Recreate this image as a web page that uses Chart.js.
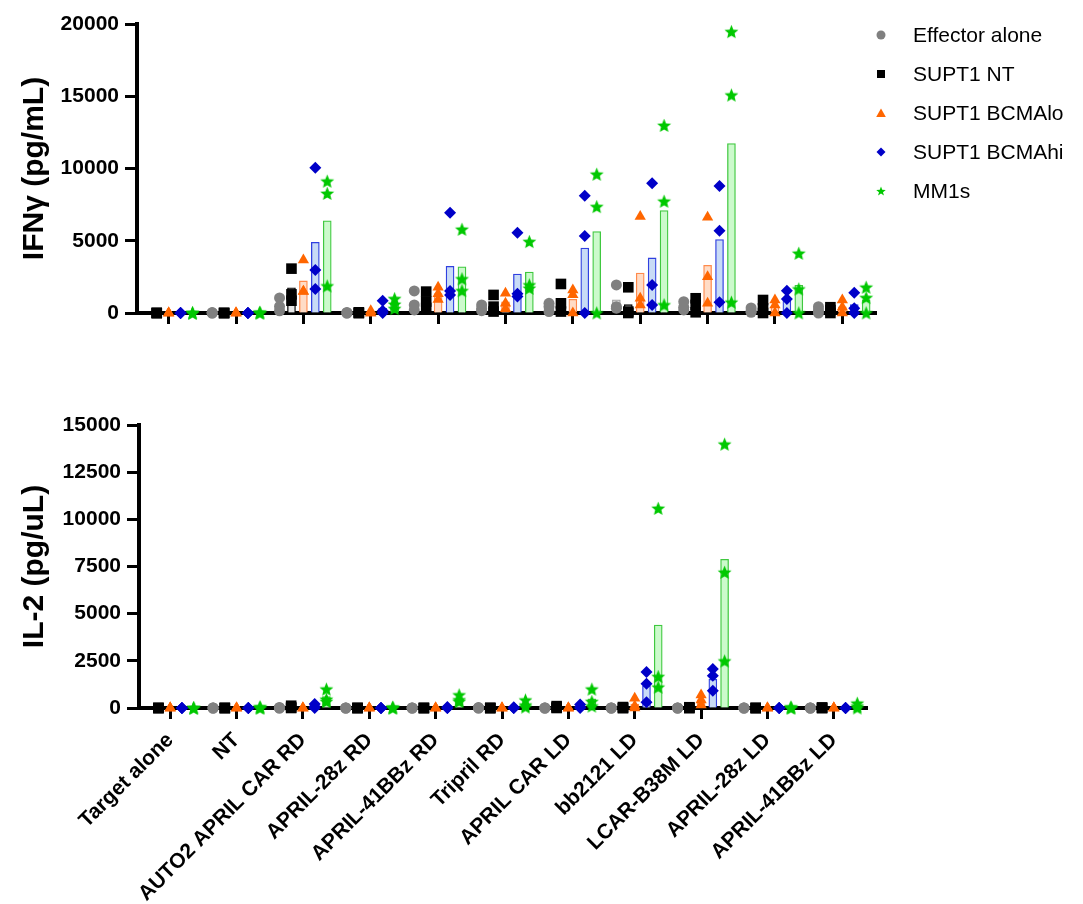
<!DOCTYPE html>
<html>
<head>
<meta charset="utf-8">
<script src="https://cdn.jsdelivr.net/npm/chart.js@4.4.1/dist/chart.umd.min.js"></script>
<style>
html,body{margin:0;padding:0;background:#fff;width:1083px;height:904px;overflow:hidden;font-family:"Liberation Sans",Arial,Helvetica,sans-serif;}
canvas{position:absolute;left:0;}
#c1{top:0;}
#c2{top:380px;}
.li{position:absolute;left:868px;height:24px;line-height:24px;font-size:21px;color:#000;white-space:nowrap;}
.li svg{position:absolute;left:6px;top:5px;}
.li span{position:absolute;left:45px;top:0;}
</style>
</head>
<body>
<canvas id="c1" width="1083" height="380"></canvas>
<canvas id="c2" width="1083" height="524"></canvas>
<div id="legend"></div>
<script>
// ---------------- DATA ----------------
const categories = ['Target alone','NT','AUTO2 APRIL CAR RD','APRIL-28z RD','APRIL-41BBz RD','Tripril RD','APRIL CAR LD','bb2121 LD','LCAR-B38M LD','APRIL-28z LD','APRIL-41BBz LD'];
const seriesNames = ['Effector alone','SUPT1 NT','SUPT1 BCMAlo','SUPT1 BCMAhi','MM1s'];
const ifnTicks = [0,5000,10000,15000,20000];
const il2Ticks = [0,2500,5000,7500,10000,12500,15000];

// IFN-gamma (pg/mL), replicates per category
const ifnEffector = [null,[30,0,0],[1040,450,150],[40,0,0],[1530,560,210],[560,300,160],[670,440,100],[1940,440,330],[780,210,400],[350,150,50],[440,200,0]];
const ifnSupt1NT  = [[0,0,0],[0,0,0],[3070,1290,850],[50,0,0],[1480,790,350],[1250,440,100],[2010,670,100],[1780,100,0],[1020,560,50],[900,330,0],[400,200,0]];
const ifnBcmaLo   = [[0,0,0],[0,0,0],[3660,1490,1500],[150,0,0],[1780,1340,940],[1370,680,300],[1590,1260,0],[6670,1020,560],[6620,2510,680],[900,560,0],[900,400,0]];
const ifnBcmaHi   = [[0,0,0],[0,0,0],[10050,2970,1660],[850,150,0],[6940,1520,1250],[5560,1340,1140],[8120,5330,0],[8980,1940,560],[8790,5700,740],[1540,970,0],[1410,330,0]];
const ifnMM1s     = [[0,0,0],[50,0,0],[9120,8270,1870],[990,600,300],[5790,2360,1540],[4940,1940,1710],[9600,7360,0],[12980,7730,560],[19470,15080,740],[4130,1660,0],[1780,1060,0]];
// IFN-gamma bar heights (means)
const ifnEffectorMean = [null,10,550,15,770,340,400,920,460,180,210];
const ifnSupt1NTMean  = [0,0,1740,15,870,600,930,575,540,410,200];
const ifnBcmaLoMean   = [0,0,2220,50,1350,780,950,2770,3300,490,430];
const ifnBcmaHiMean   = [0,0,4890,330,3230,2700,4500,3810,5080,870,575];
const ifnMM1sMean     = [0,15,6380,630,3190,2840,5630,7090,11730,1910,920];

// IL-2 (pg/uL), replicates per category
const il2Effector = [null,[0,0,0],[30,0,0],[0,0,0],[0,0,0],[20,0,0],[0,0,0],[0,0,0],[0,0,0],[0,0,0],[0,0,0]];
const il2Supt1NT  = [[0,0,0],[0,0,0],[120,30,0],[0,0,0],[0,0,0],[0,0,0],[100,30,0],[50,0,0],[40,0,0],[0,0,0],[30,0,0]];
const il2BcmaLo   = [[0,0,0],[0,0,0],[0,0,0],[0,0,0],[0,0,0],[0,0,0],[0,0,0],[520,100,0],[690,430,160],[0,0,0],[0,0,0]];
const il2BcmaHi   = [[0,0,0],[0,0,0],[210,80,0],[0,0,0],[50,0,0],[40,0,0],[180,50,0],[1910,1280,300],[2070,1710,920],[0,0,0],[0,0,0]];
const il2MM1s     = [[0,0,0],[60,0,0],[1000,460,340],[40,0,0],[690,430,340],[420,150,50],[1000,340,100],[10580,1660,1100],[13980,7190,2490],[50,0,0],[250,100,0]];
// IL-2 bar heights (means)
const il2EffectorMean = [null,0,10,0,0,5,0,0,0,0,0];
const il2Supt1NTMean  = [0,0,50,0,0,0,40,15,15,0,10];
const il2BcmaLoMean   = [0,0,0,0,0,0,0,210,430,0,0];
const il2BcmaHiMean   = [0,0,100,0,15,15,80,1180,1520,0,0];
const il2MM1sMean     = [0,20,600,15,490,210,480,4400,7880,15,120];

// ---------------- STYLE ----------------
const FONT = '"Liberation Sans", Arial, Helvetica, sans-serif';
const dodge = [-0.354,-0.177,0,0.177,0.354];
const markerColors = ['#808080','#000000','#FF6600','#0000C8','#00C800'];
const barFill   = ['#E2E2E2','#E8E8E8','#FFDCC6','#C8DBF6','#CCFACC'];
const barBorder = ['#A0A0A0','#000000','#FF8A4C','#3040E0','#40C840'];

function makeStar(color, R){
  const s = Math.ceil(2*R+2);
  const c = document.createElement('canvas'); c.width = s; c.height = s;
  const g = c.getContext('2d'); g.fillStyle = color; g.beginPath();
  for (let k=0;k<10;k++){
    const r = (k%2) ? R*0.45 : R;
    const a = -Math.PI/2 + k*Math.PI/5;
    g.lineTo(s/2 + r*Math.cos(a), s/2 + 0.6 + r*Math.sin(a));
  }
  g.closePath(); g.fill();
  return c;
}
const starImg = makeStar(markerColors[4], 7.3);
const pointStyles = ['circle','rect','triangle','rectRot',starImg];
const pointRadii  = [5.5,7.5,6.5,6,7.5];

function buildDatasets(points, means){
  const ds = [];
  points.forEach((ser,s)=>{
    const data = [];
    ser.forEach((reps,i)=>{ if(!reps) return; reps.forEach(v=>data.push({x:i+dodge[s], y:v})); });
    ds.push({type:'scatter', label:seriesNames[s], data,
      pointStyle:pointStyles[s], pointRadius:pointRadii[s], pointHoverRadius:pointRadii[s],
      pointBackgroundColor:markerColors[s], pointBorderColor:markerColors[s], pointBorderWidth:0,
      clip:false, order:0});
  });
  means.forEach((ser,s)=>{
    const data = [];
    ser.forEach((v,i)=>{ if(v===null) return; data.push({x:i+dodge[s], y:v}); });
    ds.push({type:'bar', label:seriesNames[s]+' mean', data,
      backgroundColor:barFill[s], borderColor:barBorder[s], borderWidth:1.3,
      barThickness:8, grouped:false, order:1});
  });
  return ds;
}

function makeChart(canvas, points, means, yTicks, yTitle, showLabels, area){
  const H = canvas.height;
  return new Chart(canvas, {
    type:'scatter',
    data:{datasets: buildDatasets(points, means)},
    options:{
      responsive:false, animation:false, devicePixelRatio:1,
      layout:{padding:{left:0, right:1083-area.right, top:area.top, bottom:0}},
      plugins:{legend:{display:false}, tooltip:{enabled:false}},
      scales:{
        x:{type:'linear', min:-0.47, max:10.5, offset:false,
          afterBuildTicks: sc => { sc.ticks = categories.map((c,i)=>({value:i})); },
          afterFit: sc => { sc.height = H - area.bottom; },
          ticks:{autoSkip:false, maxRotation:45, minRotation:45, padding:9, color:'#000',
            font:{family:FONT, size:21, weight:'bold'},
            callback: v => showLabels ? categories[v] : ''},
          grid:{display:true, offset:false, drawOnChartArea:false, drawTicks:true, tickLength:11, tickWidth:3, tickColor:'#000'},
          border:{display:true, color:'#000', width:4}
        },
        y:{type:'linear', min:0, max:yTicks[yTicks.length-1],
          afterBuildTicks: sc => { sc.ticks = yTicks.map(v=>({value:v})); },
          afterFit: sc => { sc.width = area.left; },
          ticks:{color:'#000', padding:6, font:{family:FONT, size:21, weight:'bold'}, callback: v => String(v)},
          grid:{display:true, drawOnChartArea:false, drawTicks:true, tickLength:12, tickWidth:3, tickColor:'#000'},
          border:{display:true, color:'#000', width:4},
          title:{display:true, text:yTitle, color:'#000', font:{family:FONT, size:30, weight:'bold'}, padding:{top:17, bottom:0}}
        }
      }
    }
  });
}

makeChart(document.getElementById('c1'),
  [ifnEffector, ifnSupt1NT, ifnBcmaLo, ifnBcmaHi, ifnMM1s],
  [ifnEffectorMean, ifnSupt1NTMean, ifnBcmaLoMean, ifnBcmaHiMean, ifnMM1sMean],
  ifnTicks, 'IFNγ (pg/mL)', false, {left:137, right:876, top:24, bottom:313});

makeChart(document.getElementById('c2'),
  [il2Effector, il2Supt1NT, il2BcmaLo, il2BcmaHi, il2MM1s],
  [il2EffectorMean, il2Supt1NTMean, il2BcmaLoMean, il2BcmaHiMean, il2MM1sMean],
  il2Ticks, 'IL-2 (pg/uL)', true, {left:139, right:867, top:45, bottom:328});

// ---------------- LEGEND ----------------
function starPath(cx, cy, R){
  let p = '';
  for (let k=0;k<10;k++){
    const r = (k%2) ? R*0.42 : R;
    const a = -Math.PI/2 + k*Math.PI/5;
    p += (k?'L':'M') + (cx + r*Math.cos(a)).toFixed(2) + ',' + (cy + r*Math.sin(a)).toFixed(2);
  }
  return p + 'Z';
}
const legendShapes = [
  c => `<circle cx="7" cy="7" r="4.5" fill="${c}"/>`,
  c => `<rect x="3" y="3" width="8" height="8" fill="${c}"/>`,
  c => `<polygon points="7,2.5 11.8,11 2.2,11" fill="${c}"/>`,
  c => `<polygon points="7,2.5 11.5,7 7,11.5 2.5,7" fill="${c}"/>`,
  c => `<path d="${starPath(7,7.5,5)}" fill="${c}"/>`
];
const legendY = [35,74,113,152,191];
const lg = document.getElementById('legend');
seriesNames.forEach((n,s)=>{
  const d = document.createElement('div');
  d.className = 'li';
  d.style.top = (legendY[s]-12) + 'px';
  d.innerHTML = `<svg width="14" height="14" viewBox="0 0 14 14">${legendShapes[s](markerColors[s])}</svg><span>${n}</span>`;
  lg.appendChild(d);
});
</script>
</body>
</html>
